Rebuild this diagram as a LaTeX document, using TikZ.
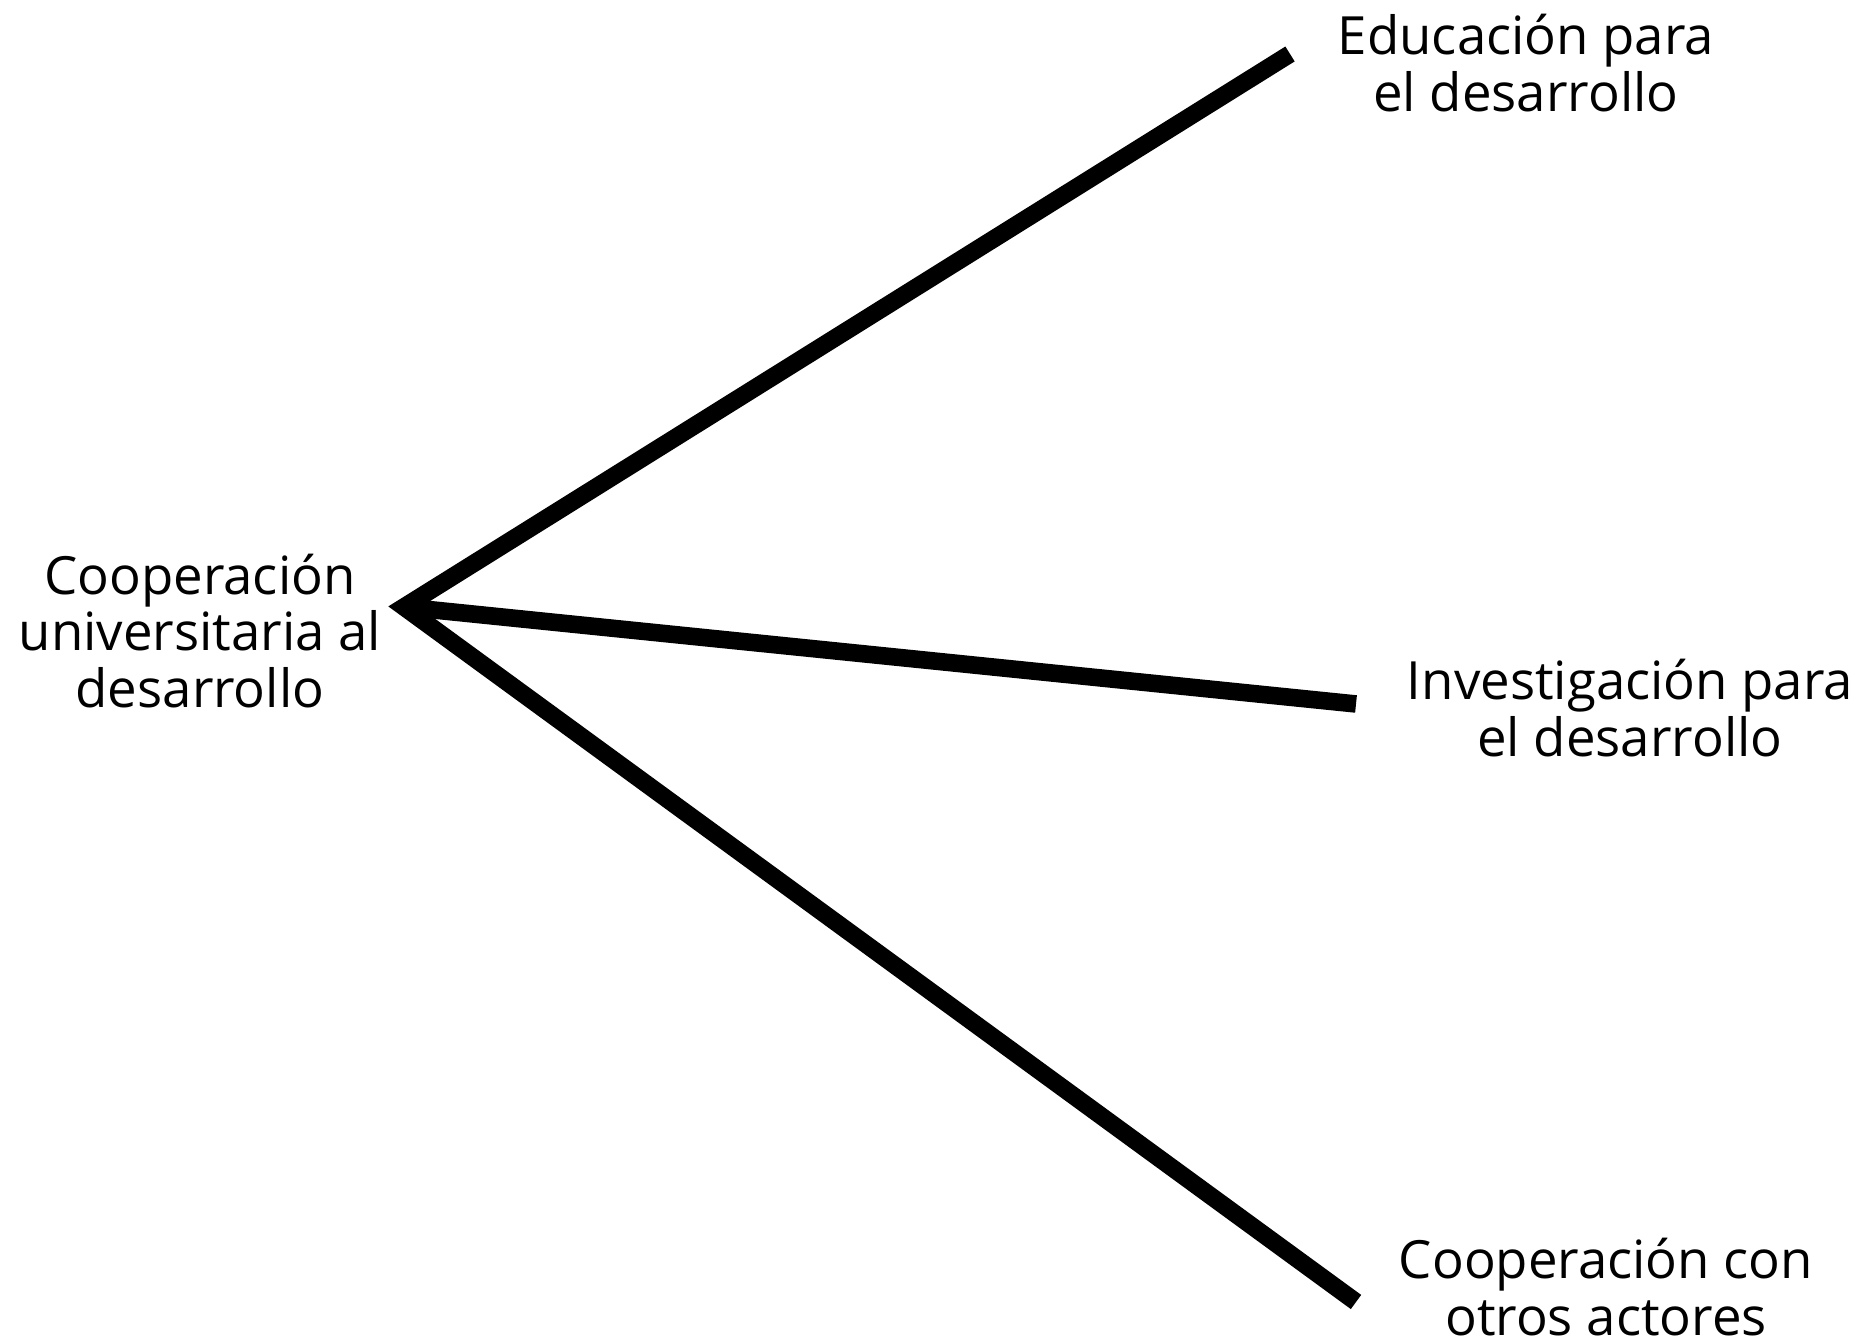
\documentclass[tikz,border=0pt]{standalone}
\usepackage{fontspec}
\setmainfont{Open Sans}
\begin{document}
\begin{tikzpicture}
    \tikzstyle{branch} = [line width = 5pt, line join = miter, line cap = butt]
    \tikzstyle{label} = [align = center, font = \fontsize{15}{16}\selectfont, inner sep = 0pt]
    \useasboundingbox (0,0) rectangle (18.65,13.43);

    \coordinate (O) at (4.04,7.36);
    \coordinate (E) at (12.90,12.89);
    \coordinate (I) at (13.56,6.39);
    \coordinate (C) at (13.56,0.41);

    \node[label](cud) at (2.00,7.12){Cooperación\\universitaria al\\desarrollo};
    \node[label](edu) at (15.26,12.80){Educación para\\el desarrollo};
    \node[label](inv) at (16.30,6.35){Investigación para\\el desarrollo};
    \node[label](coo) at (16.06,0.56){Cooperación con\\otros actores};

    \draw[branch] (E)--(O)--(C);
    \draw[branch] (O)--(I);

\end{tikzpicture}
\end{document}
